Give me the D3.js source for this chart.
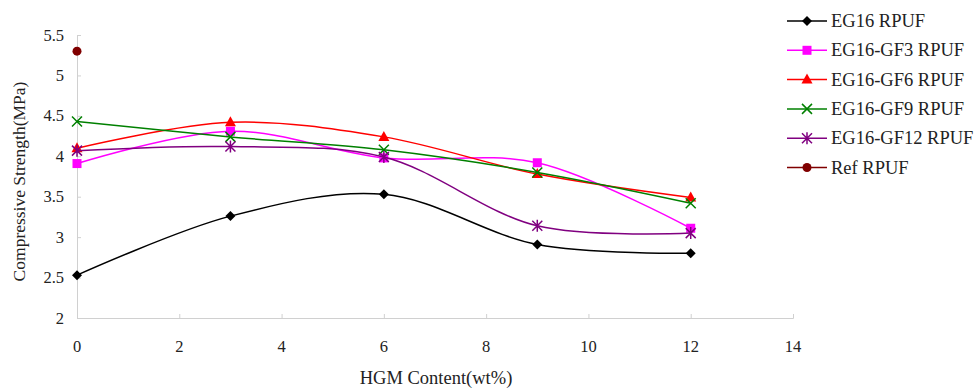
<!DOCTYPE html>
<html>
<head>
<meta charset="utf-8">
<script src="https://cdn.jsdelivr.net/npm/d3@7"></script>
<style>
  body { margin: 0; background: #fff; }
  svg { font-family: "Liberation Serif", "Times New Roman", serif; }
</style>
</head>
<body>
<svg id="chart" width="975" height="390"></svg>
<script>
//chart data
var hgmContent = [0, 3, 6, 9, 12];
var seriesNames = ['EG16 RPUF', 'EG16-GF3 RPUF', 'EG16-GF6 RPUF', 'EG16-GF9 RPUF', 'EG16-GF12 RPUF', 'Ref RPUF'];
var eg16 = [2.53, 3.26, 3.53, 2.91, 2.80];
var eg16gf3 = [3.91, 4.31, 3.98, 3.92, 3.11];
var eg16gf6 = [4.10, 4.42, 4.24, 3.78, 3.49];
var eg16gf9 = [4.43, 4.24, 4.08, 3.80, 3.42];
var eg16gf12 = [4.07, 4.12, 3.99, 3.14, 3.05];
var refX = [0];
var refRpuf = [5.30];
var xTicks = [0, 2, 4, 6, 8, 10, 12, 14];
var yTicks = [2, 2.5, 3, 3.5, 4, 4.5, 5, 5.5];

//series styles
var series = [
    { name: seriesNames[0], x: hgmContent, y: eg16, color: '#000000', marker: 'diamond' },
    { name: seriesNames[1], x: hgmContent, y: eg16gf3, color: '#ff00ff', marker: 'square' },
    { name: seriesNames[2], x: hgmContent, y: eg16gf6, color: '#ff0000', marker: 'triangle' },
    { name: seriesNames[3], x: hgmContent, y: eg16gf9, color: '#008000', marker: 'cross' },
    { name: seriesNames[4], x: hgmContent, y: eg16gf12, color: '#800080', marker: 'star' },
    { name: seriesNames[5], x: refX, y: refRpuf, color: '#800000', marker: 'circle' }
];

var svg = d3.select('#chart'),
    plot = { left: 77, right: 793, top: 35, bottom: 318 };

var x = d3.scaleLinear().domain([0, 14]).range([plot.left, plot.right]),
    y = d3.scaleLinear().domain([2, 5.5]).range([plot.bottom, plot.top]);

//axes
svg.append('g')
    .attr('transform', 'translate(0,' + plot.bottom + ')')
    .call(d3.axisTop(x).tickValues(xTicks).tickSize(4).tickFormat(''));
svg.append('g')
    .attr('transform', 'translate(' + plot.left + ',0)')
    .call(d3.axisRight(y).tickValues(yTicks).tickSize(4).tickFormat(''));
svg.selectAll('.domain, .tick line').attr('stroke', '#d0d0d0');

//tick labels
svg.selectAll('text.xtick')
    .data(xTicks).enter().append('text')
    .attr('x', function (d) { return x(d); })
    .attr('y', plot.bottom + 34)
    .attr('text-anchor', 'middle')
    .attr('font-size', 16.5)
    .attr('fill', '#222')
    .text(function (d) { return d; });
svg.selectAll('text.ytick')
    .data(yTicks).enter().append('text')
    .attr('x', plot.left - 13)
    .attr('y', function (d) { return y(d) + 5.5; })
    .attr('text-anchor', 'end')
    .attr('font-size', 16.5)
    .attr('fill', '#222')
    .text(function (d) { return d; });

//axis titles
svg.append('text')
    .attr('x', 436).attr('y', 384)
    .attr('text-anchor', 'middle')
    .attr('font-size', 18.5)
    .attr('fill', '#222')
    .text('HGM Content(wt%)');
svg.append('text')
    .attr('transform', 'translate(25,' + ((plot.top + plot.bottom) / 2 + 5) + ') rotate(-90)')
    .attr('text-anchor', 'middle')
    .attr('font-size', 17.5)
    .attr('fill', '#222')
    .text('Compressive Strength(MPa)');

//draws a marker
function drawMarker(g, type, color) {
    var s = 5;
    if (type === 'diamond') {
        g.append('path').attr('d', 'M0,' + -s + 'L' + s + ',0L0,' + s + 'L' + -s + ',0Z').attr('fill', color);
    } else if (type === 'square') {
        g.append('rect').attr('x', -4.5).attr('y', -4.5).attr('width', 9).attr('height', 9).attr('fill', color);
    } else if (type === 'triangle') {
        g.append('path').attr('d', 'M0,-6L5.5,4L-5.5,4Z').attr('fill', color);
    } else if (type === 'cross') {
        g.append('path').attr('d', 'M-5,-5L5,5M5,-5L-5,5').attr('stroke', color).attr('stroke-width', 1.5);
    } else if (type === 'star') {
        g.append('path').attr('d', 'M-5,-5L5,5M5,-5L-5,5M0,-6L0,6').attr('stroke', color).attr('stroke-width', 1.5);
    } else if (type === 'circle') {
        g.append('circle').attr('r', 4.5).attr('fill', color);
    }
}

var line = d3.line()
    .x(function (d) { return x(d[0]); })
    .y(function (d) { return y(d[1]); })
    .curve(d3.curveCatmullRom.alpha(0.5));

//draw series
series.forEach(function (s) {
    var pts = s.x.map(function (v, i) { return [v, s.y[i]]; });
    if (pts.length > 1) {
        svg.append('path')
            .attr('d', line(pts))
            .attr('fill', 'none')
            .attr('stroke', s.color)
            .attr('stroke-width', 1.5);
    }
    pts.forEach(function (p) {
        var g = svg.append('g').attr('transform', 'translate(' + x(p[0]) + ',' + y(p[1]) + ')');
        drawMarker(g, s.marker, s.color);
    });
});

//legend
series.forEach(function (s, i) {
    var ly = 21 + i * 29.3;
    var g = svg.append('g').attr('transform', 'translate(787,' + ly + ')');
    g.append('line').attr('x1', 0).attr('x2', 40).attr('y1', 0).attr('y2', 0)
        .attr('stroke', s.color).attr('stroke-width', 1.5);
    drawMarker(g.append('g').attr('transform', 'translate(20,0)'), s.marker, s.color);
    g.append('text').attr('x', 44).attr('y', 6)
        .attr('font-size', 18.5)
        .attr('fill', '#222')
        .text(s.name);
});
</script>
</body>
</html>
